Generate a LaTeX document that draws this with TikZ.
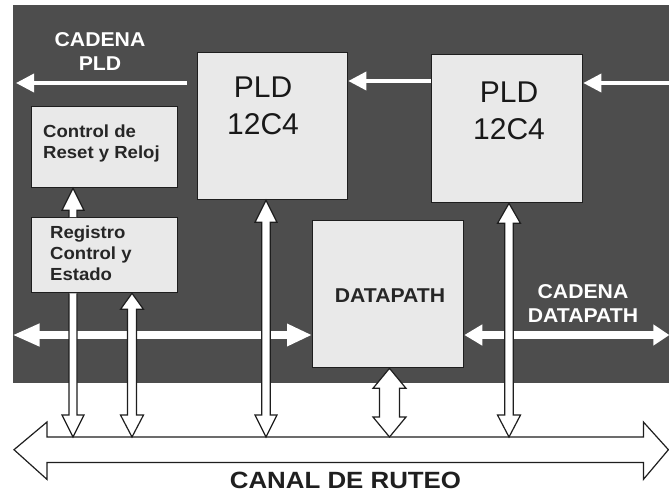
\documentclass[tikz,border=0pt]{standalone}
\usepackage{fontspec}
\setmainfont{Liberation Sans}
\newfontfamily\bfam{Liberation Sans}[FakeStretch=1.06]
\newfontfamily\canalfont{Liberation Sans Bold}[FakeStretch=1.1]
\usetikzlibrary{arrows.meta,calc}
\definecolor{dark}{HTML}{4D4D4D}
\definecolor{boxfill}{HTML}{E9E9E9}
\definecolor{edge}{HTML}{1E1E1E}
\newcommand\arrDbl[6]{\filldraw[hollow] (#1) -- ($(#1)+(#4,#5)$) -- ($(#1)+(#3,#5)$) -- ($(#2)+(#3,-#6)$) -- ($(#2)+(#4,-#6)$) -- (#2) -- ($(#2)+(-#4,-#6)$) -- ($(#2)+(-#3,-#6)$) -- ($(#1)+(-#3,#5)$) -- ($(#1)+(-#4,#5)$) -- cycle;}
\newcommand\arrDown[5]{\filldraw[hollow] ($(#1)+(-#3,0)$) -- ($(#2)+(-#3,-#5)$) -- ($(#2)+(-#4,-#5)$) -- (#2) -- ($(#2)+(#4,-#5)$) -- ($(#2)+(#3,-#5)$) -- ($(#1)+(#3,0)$);}
\newcommand\arrUp[5]{\filldraw[hollow] ($(#2)+(-#3,0)$) -- ($(#1)+(-#3,#5)$) -- ($(#1)+(-#4,#5)$) -- (#1) -- ($(#1)+(#4,#5)$) -- ($(#1)+(#3,#5)$) -- ($(#2)+(#3,0)$);}
\begin{document}
\begin{tikzpicture}[x=1pt,y=-1pt,
  box/.style={draw=edge,fill=boxfill,line width=1.3pt,inner sep=0pt,anchor=north west},
  hollow/.style={fill=white,draw=edge,line width=1.2pt,line join=miter},
  pldtxt/.style={font=\fontsize{30}{37}\selectfont,align=center,inner sep=0pt,anchor=base,text=black!90},
  btxt/.style={font=\bfam\bfseries\fontsize{17.5}{21}\selectfont,align=left,inner sep=0pt,anchor=base west,text=black!85},
  wtxt/.style={font=\bfam\bfseries\fontsize{20}{23.5}\selectfont,align=center,inner sep=0pt,anchor=base,text=white},
  thinarr/.style={draw=white,line width=3.5pt,-{Triangle[width=18pt,length=18pt]}},
  fatarr/.style={draw=white,line width=7.5pt,{Triangle[width=21pt,length=27pt]}-{Triangle[width=21pt,length=25pt]}},
  fatarrb/.style={draw=white,line width=7.5pt,{Triangle[width=20pt,length=18pt]}-{Triangle[width=20pt,length=16pt]}}
]
\useasboundingbox (0,0) rectangle (669,499);
\fill[white] (0,0) rectangle (669,499);
\node[fill=dark,minimum width=656.5pt,minimum height=378pt,inner sep=0pt,anchor=north west] (core) at (12.5,5) {};
% boxes
\node[box,minimum width=150pt,minimum height=147pt] (pld1) at (197,52) {};
\node[box,minimum width=151pt,minimum height=148pt] (pld2) at (431,54) {};
\node[box,minimum width=146pt,minimum height=81pt] (ctrl) at (31,106) {};
\node[box,minimum width=146pt,minimum height=75pt] (reg) at (31,217) {};
\node[box,minimum width=151pt,minimum height=147pt] (dp) at (312,220) {};
% texts
\node[pldtxt] (pld1t) at (263,134) {PLD\\12C4};
\node[pldtxt] (pld2t) at (509,139) {PLD\\12C4};
\node[btxt] (ctrlt) at (43,158.5) {Control de\\Reset y Reloj};
\node[btxt] (regt) at (50,280) {Registro\\Control y\\Estado};
\node[btxt,anchor=base,font=\bfam\bfseries\fontsize{20}{21}\selectfont] (dpt) at (390,302) {DATAPATH};
\node[wtxt] (cpld) at (100,70) {CADENA\\PLD};
\node[wtxt,font=\bfam\bfseries\fontsize{20}{24}\selectfont] (cdp) at (583,322) {CADENA\\DATAPATH};
% horizontal white arrows
\draw[fatarr] (core.west |- 0,335) -- (dp.west |- 0,335);
\draw[fatarrb] (dp.east |- 0,335) -- (core.east |- 0,335);
% PLD chain
\coordinate (cpls) at (187,83);
\coordinate (cple) at (16,83);
\draw[thinarr] (cpls) -- (cple);
\draw[thinarr] (pld2.west |- 0,81) -- (pld1.east |- 0,81);
\draw[thinarr] (core.east |- 0,83) -- (pld2.east |- 0,83);
% canal de ruteo
\node[inner sep=0pt,minimum width=596pt,minimum height=25pt,anchor=north west] (canal) at (47,437) {};
\filldraw[hollow] (canal.north west) -- (canal.north east) -- ($(canal.north east)+(0,-15)$) -- ($(canal.east)+(25,0)$) -- ($(canal.south east)+(0,17)$) -- (canal.south east) -- (canal.south west) -- ($(canal.south west)+(0,17)$) -- ($(canal.west)+(-33,0)$) -- ($(canal.north west)+(0,-15)$) -- cycle;
\node[font=\canalfont\fontsize{23.5}{26}\selectfont,inner sep=0pt,anchor=base,text=black!88] (canalt) at (345.5,488) {CANAL DE RUTEO};
% vertical hollow arrows
\coordinate (a0t) at (73,0 |- ctrl.south);
\coordinate (a0b) at (73,0 |- reg.north);
\arrUp{a0t}{a0b}{4}{11}{22}
\coordinate (a1t) at (73,0 |- reg.south);
\coordinate (a1b) at (73,0 |- canal.north);
\arrDown{a1t}{a1b}{4}{11}{22}
\coordinate (a2t) at (132,0 |- reg.south);
\coordinate (a2b) at (132,0 |- canal.north);
\arrDbl{a2t}{a2b}{4.5}{11.5}{16}{22}
\coordinate (a3t) at (266,0 |- pld1.south);
\coordinate (a3b) at (266,0 |- canal.north);
\arrDbl{a3t}{a3b}{4.2}{11}{22}{22}
\coordinate (a4t) at (509,0 |- pld2.south);
\coordinate (a4b) at (509,0 |- canal.north);
\arrDbl{a4t}{a4b}{4.2}{11.5}{20}{22}
\coordinate (a5t) at (389.5,0 |- dp.south);
\coordinate (a5b) at (389.5,0 |- canal.north);
\arrDbl{a5t}{a5b}{10}{16.5}{20}{20}
\end{tikzpicture}
\end{document}
